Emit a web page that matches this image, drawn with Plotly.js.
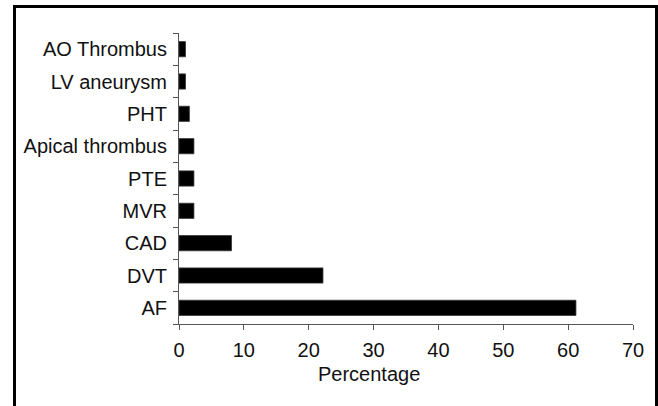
<!DOCTYPE html>
<html>
<head>
<meta charset="utf-8">
<script src="https://cdn.plot.ly/plotly-3.0.1.min.js"></script>
<style>
html,body{margin:0;padding:0;background:#fff;}
#chart{width:658px;height:406px;}
</style>
</head>
<body>
<div id="chart"></div>
<script>
const categories = ["AF", "DVT", "CAD", "MVR", "PTE", "Apical thrombus", "PHT", "LV aneurysm", "AO Thrombus"];
const percentages = [61.2, 22.2, 8.1, 2.3, 2.3, 2.3, 1.6, 1.0, 1.0];
const xTickValues = [0, 10, 20, 30, 40, 50, 60, 70];
const xTitle = "Percentage";

const font = {family: "Liberation Sans, Arial, sans-serif", size: 20, color: "#111"};

const L = 179, R = 633, T = 33, B = 324;
const W = 658, H = 406;
const pw = R - L, ph = B - T;
function px(x){ return (x - L) / pw; }
function py(y){ return (B - y) / ph; }

const trace = {
  type: "bar",
  orientation: "h",
  y: categories,
  x: percentages,
  width: 0.47,
  marker: {color: "#000", line: {color: "#333", width: 0.8}},
  hoverinfo: "skip"
};

const axisColor = "#555";

const layout = {
  width: W, height: H,
  margin: {l: L, r: W - R, t: T, b: H - B, pad: 0},
  paper_bgcolor: "#fff",
  plot_bgcolor: "#fff",
  showlegend: false,
  font: font,
  xaxis: {
    range: [0, 70],
    tickvals: xTickValues,
    ticks: "outside", ticklen: 5, tickcolor: axisColor, tickwidth: 1,
    showline: true, linecolor: axisColor, linewidth: 1,
    showgrid: false, zeroline: false,
    tickfont: font,
    ticklabelstandoff: 3,
    fixedrange: true
  },
  yaxis: {
    type: "category",
    range: [-0.5, categories.length - 0.5],
    tickson: "boundaries",
    ticks: "outside", ticklen: 5, tickcolor: axisColor, tickwidth: 1,
    showline: true, linecolor: axisColor, linewidth: 1,
    showgrid: false, zeroline: false,
    tickfont: font,
    ticklabelstandoff: 7,
    fixedrange: true
  },
  annotations: [{
    text: xTitle, xref: "paper", yref: "paper",
    x: px(369), y: py(374), xanchor: "center", yanchor: "middle",
    showarrow: false, font: font
  }],
  shapes: [
    {type: "line", xref: "paper", yref: "paper", x0: px(14.5), x1: px(14.5), y0: py(5), y1: py(420), line: {color: "#000", width: 3}},
    {type: "line", xref: "paper", yref: "paper", x0: px(13), x1: px(658), y0: py(6.5), y1: py(6.5), line: {color: "#000", width: 3}},
    {type: "line", xref: "paper", yref: "paper", x0: px(656.5), x1: px(656.5), y0: py(5), y1: py(420), line: {color: "#000", width: 3}}
  ]
};

Plotly.newPlot("chart", [trace], layout, {displayModeBar: false, staticPlot: true});
</script>
</body>
</html>
